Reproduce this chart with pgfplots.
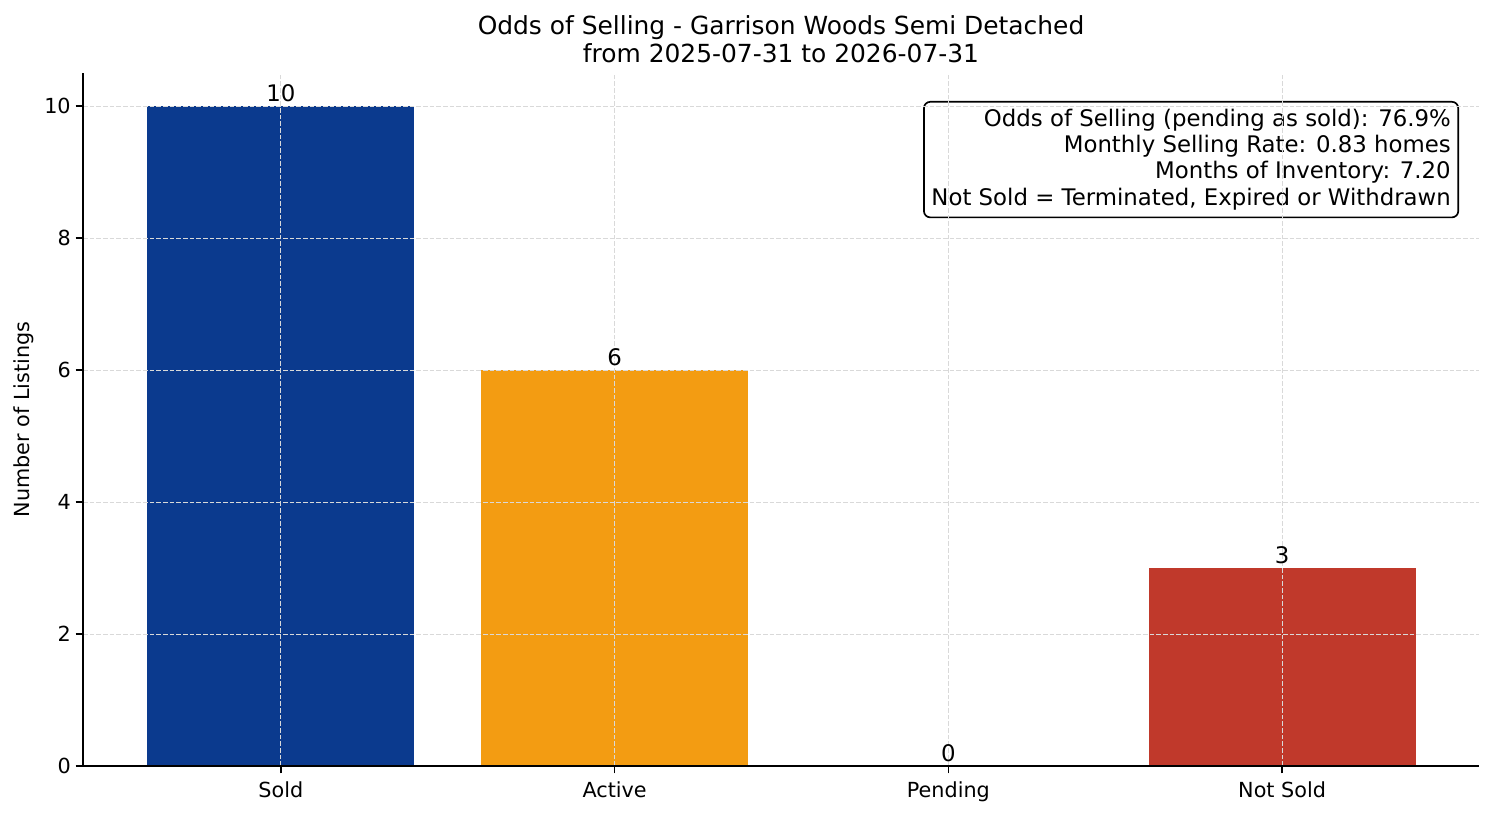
\documentclass[border=0pt]{standalone}
\usepackage{pgfplots}
\pgfplotsset{compat=1.18}
\usepackage{fontspec}
\setmainfont{DejaVu Sans}

\definecolor{soldblue}{HTML}{0B3A8E}
\definecolor{activeorange}{HTML}{F39C12}
\definecolor{notsoldred}{HTML}{C0392B}

\begin{document}
\begin{tikzpicture}
\useasboundingbox (0,0) rectangle (717.12bp,391.68bp);
\begin{axis}[
  at={(39.84bp,24bp)}, anchor=south west,
  scale only axis, width=670.08bp, height=332.64bp,
  xmin=-0.593, xmax=3.59, ymin=0, ymax=10.5,
  clip=false,
  axis x line*=bottom, axis y line*=left,
  axis line style={line width=0.8bp, black},
  tick align=outside, major tick length=3.5bp,
  tick style={line width=0.8bp, black},
  xtick={0,1,2,3}, xticklabels={Sold,Active,Pending,Not Sold},
  ytick={0,2,4,6,8,10},
  /pgf/number format/assume math mode=true,
  tick label style={font=\fontsize{10}{12}\selectfont, inner sep=0pt},
  xticklabel style={yshift=-3.8bp},
  yticklabel style={xshift=-2.2bp},
  grid=major,
  major grid style={line width=0.4bp, color=black!15, dash pattern=on 2.2bp off 1bp},
  axis on top,
  ylabel={Number of Listings},
  ylabel style={font=\fontsize{10}{12}\selectfont, at={(rel axis cs:0,0.5)}, anchor=center, yshift=28.3bp},
  title={Odds of Selling - Garrison Woods Semi Detached\\from 2025-07-31 to 2026-07-31},
  title style={at={(rel axis cs:0.5,1)}, anchor=south, align=center, inner sep=0pt,
    yshift=-1.4bp, font=\fontsize{12}{13.6}\selectfont},
  ybar, bar width=0.8, bar shift=0pt,
  nodes near coords,
  nodes near coords style={font=\fontsize{11}{13}\selectfont, anchor=south, inner sep=2bp, black},
]
\addplot[fill=soldblue, draw=none] coordinates {(0,10)};
\addplot[fill=activeorange, draw=none] coordinates {(1,6)};
\addplot[fill=white, draw=none] coordinates {(2,0)};
\addplot[fill=notsoldred, draw=none] coordinates {(3,3)};

\node[anchor=north east, align=right, draw=black, line width=0.8bp, fill=white,
  rounded corners=3bp, inner sep=3.6bp, font=\fontsize{11}{12.6}\selectfont]
  at (rel axis cs:0.9857,0.9596)
  {Odds of Selling (pending as sold): 76.9\%\\
   Monthly Selling Rate: 0.83 homes\\
   Months of Inventory: 7.20\\
   Not Sold = Terminated, Expired or Withdrawn};
\end{axis}
\end{tikzpicture}
\end{document}
